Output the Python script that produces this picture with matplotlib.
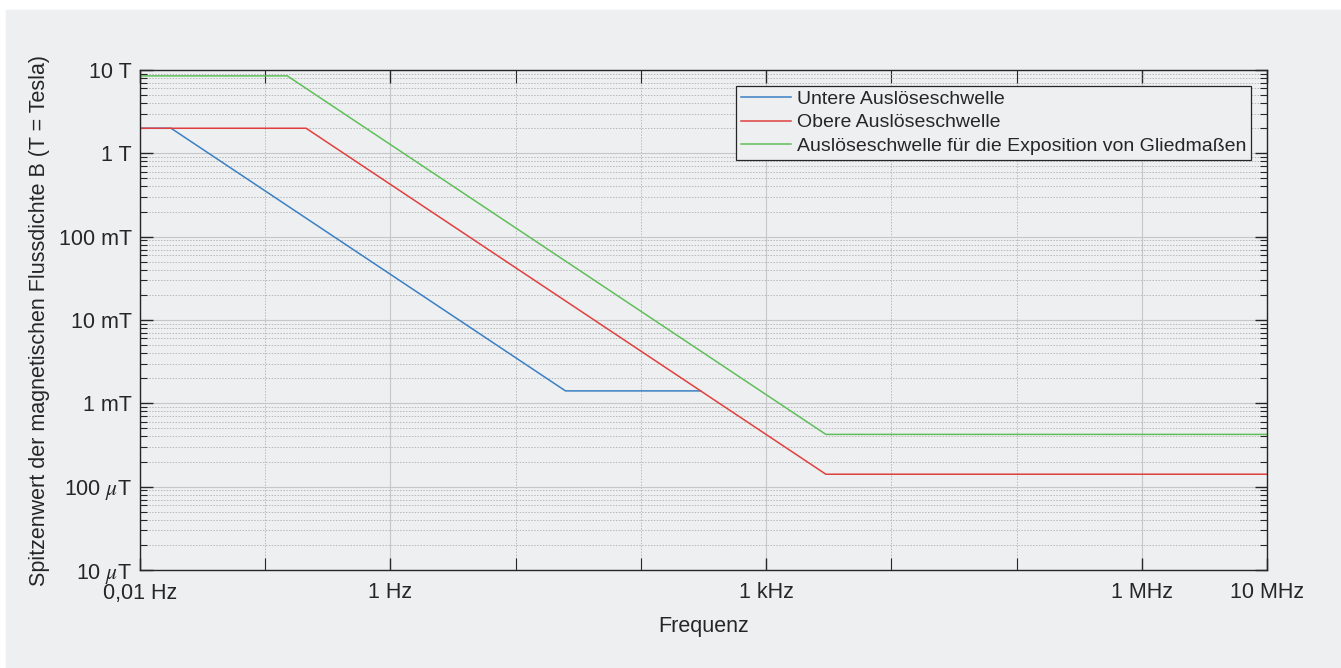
import numpy as np
import matplotlib
matplotlib.use("Agg")
import matplotlib.pyplot as plt
from matplotlib.ticker import FixedLocator, NullFormatter

plt.rcParams['font.family'] = ['Liberation Sans', 'DejaVu Sans']
plt.rcParams['mathtext.fontset'] = 'stix'

# Grenzwerte (Spitzenwerte) in Tesla ueber der Frequenz in Hz
f_untere = [0.01, 0.0177, 25, 300]
b_untere = [2.0, 2.0, 1.41e-3, 1.41e-3]

f_obere = [0.01, 0.212, 3000, 1e7]
b_obere = [2.0, 2.0, 1.41e-4, 1.41e-4]

f_glied = [0.01, 0.15, 3000, 1e7]
b_glied = [8.5, 8.5, 4.24e-4, 4.24e-4]

labels = ["Untere Auslöseschwelle", "Obere Auslöseschwelle",
          "Auslöseschwelle für die Exposition von Gliedmaßen"]
colors = ["#3a80c4", "#e0403f", "#5fbf5a"]

x_ticks = [1e-2, 1e0, 1e3, 1e6, 1e7]
x_ticklabels = ["0,01 Hz", "1 Hz", "1 kHz", "1 MHz", "10 MHz"]
x_minor = [1e-1, 1e1, 1e2, 1e4, 1e5]
y_ticks = [1e-5, 1e-4, 1e-3, 1e-2, 1e-1, 1e0, 1e1]
y_ticklabels = [r"10 $\mu$T", r"100 $\mu$T", "1 mT", "10 mT", "100 mT", "1 T", "10 T"]

bg = "#eeeff0"
fig = plt.figure(figsize=(13.41, 6.68), dpi=100, facecolor="white")
fig.patches.append(plt.Rectangle((6 / 1341, 0), 1, 1 - 10 / 668,
                                 transform=fig.transFigure, color=bg, zorder=-10))
ax = fig.add_axes([140 / 1341, 1 - 570 / 668, 1127 / 1341, 500 / 668])
ax.set_facecolor(bg)

for f, b, lab, c in zip([f_untere, f_obere, f_glied], [b_untere, b_obere, b_glied], labels, colors):
    ax.plot(f, b, color=c, lw=1.1, label=lab)

ax.set_xscale("log")
ax.set_yscale("log")
ax.set_xlim(1e-2, 1e7)
ax.set_ylim(1e-5, 1e1)

ax.xaxis.set_major_locator(FixedLocator(x_ticks))
ax.set_xticklabels(x_ticklabels)
ax.xaxis.set_minor_locator(FixedLocator(x_minor))
ax.xaxis.set_minor_formatter(NullFormatter())

ax.yaxis.set_major_locator(FixedLocator(y_ticks))
ax.set_yticklabels(y_ticklabels)
y_minor = [m * 10.0 ** e for e in range(-5, 1) for m in range(2, 10)]
ax.yaxis.set_minor_locator(FixedLocator(y_minor))
ax.yaxis.set_minor_formatter(NullFormatter())

ax.tick_params(which="both", direction="in", top=True, right=True,
               color="#262626", labelsize=15.5, labelcolor="#262626")
ax.tick_params(which="major", length=9, width=1)
ax.tick_params(axis="x", which="major", pad=9)
ax.tick_params(axis="y", which="major", pad=6)
ax.tick_params(axis="x", which="minor", length=9, width=0.8)
ax.tick_params(axis="y", which="minor", length=5, width=0.8)

ax.grid(which="major", color="#c6c7c8", lw=0.8, ls="-")
ax.grid(which="minor", color="#b8b9ba", lw=0.7, ls=(0, (1.5, 1.5)))
ax.set_axisbelow(True)

for s in ax.spines.values():
    s.set_color("#262626")
    s.set_linewidth(1)

ax.set_xlabel("Frequenz", fontsize=15.5, color="#262626", labelpad=9)
ax.set_ylabel("Spitzenwert der magnetischen Flussdichte B (T = Tesla)",
              fontsize=15.5, color="#262626", labelpad=6)

leg = ax.legend(loc="upper right", fontsize=14, frameon=True, fancybox=False,
                edgecolor="#262626", facecolor=bg, framealpha=1,
                borderaxespad=0.8, labelspacing=0.3, handlelength=2.6,
                handletextpad=0.3, borderpad=0.25)
leg.get_frame().set_linewidth(0.9)
for t in leg.get_texts():
    t.set_color("#262626")

fig.savefig("out.png", dpi=100, facecolor=fig.get_facecolor())
